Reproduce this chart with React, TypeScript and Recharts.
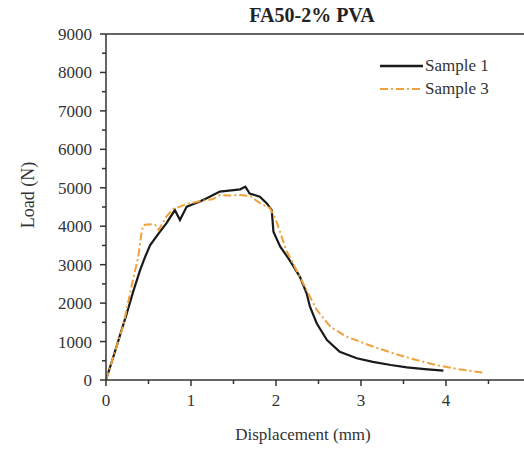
import { LineChart, Line, XAxis, YAxis, ReferenceLine } from "recharts";

const sample1X = [0, 0.08, 0.16, 0.24, 0.32, 0.4, 0.46, 0.52, 0.62, 0.71, 0.81, 0.87, 0.95, 1.03, 1.1, 1.18, 1.26, 1.34, 1.42, 1.5, 1.58, 1.64, 1.69, 1.81, 1.89, 1.95, 1.97, 2.05, 2.16, 2.28, 2.36, 2.4, 2.48, 2.6, 2.75, 2.95, 3.14, 3.35, 3.54, 3.75, 3.97];
const sample1Y = [0, 560, 1130, 1700, 2300, 2850, 3200, 3510, 3815, 4075, 4420, 4160, 4510, 4580, 4640, 4720, 4810, 4900, 4920, 4940, 4960, 5030, 4850, 4770, 4600, 4420, 3860, 3470, 3120, 2690, 2255, 1905, 1470, 1040, 735, 565, 470, 390, 330, 285, 245];

const sample3X = [0, 0.1, 0.2, 0.3, 0.38, 0.42, 0.44, 0.52, 0.58, 0.62, 0.71, 0.79, 0.87, 0.95, 1.1, 1.18, 1.25, 1.34, 1.45, 1.58, 1.7, 1.81, 1.93, 2.0, 2.12, 2.24, 2.36, 2.48, 2.64, 2.83, 2.99, 3.14, 3.4, 3.65, 3.9, 4.15, 4.44];
const sample3Y = [0, 700, 1390, 2430, 3210, 3860, 4030, 4050, 4030, 3900, 4250, 4450, 4510, 4580, 4650, 4680, 4700, 4810, 4800, 4810, 4780, 4600, 4470, 4160, 3380, 2860, 2340, 1820, 1385, 1125, 995, 870, 680, 520, 380, 280, 190];

const xTicks = [0, 0.5, 1, 1.5, 2, 2.5, 3, 3.5, 4, 4.5];
const yTicks = [0, 500, 1000, 1500, 2000, 2500, 3000, 3500, 4000, 4500, 5000, 5500, 6000, 6500, 7000, 7500, 8000, 8500, 9000];

const series1 = sample1X.map((x, i) => ({ x, y: sample1Y[i] }));
const series3 = sample3X.map((x, i) => ({ x, y: sample3Y[i] }));

const font = "'Liberation Serif', 'Times New Roman', serif";
const axisColor = "#333";
const orange = "#EFA13A";

const XTick = (props: any) => {
  const { x, y, payload } = props;
  const major = Number.isInteger(payload.value);
  return (
    <g>
      <line x1={x} x2={x} y1={y - 8} y2={y - 8 + (major ? 6 : 4)} stroke={axisColor} strokeWidth={1.5} />
      {major && (
        <text x={x} y={y + 18} textAnchor="middle" fontFamily={font} fontSize={17} fill={axisColor}>
          {payload.value}
        </text>
      )}
    </g>
  );
};

const YTick = (props: any) => {
  const { x, y, payload } = props;
  const major = payload.value % 1000 === 0;
  return (
    <g>
      <line x1={x + 8} x2={x + 8 - (major ? 6 : 4)} y1={y} y2={y} stroke={axisColor} strokeWidth={1.5} />
      {major && (
        <text x={x - 6} y={y + 6} textAnchor="end" fontFamily={font} fontSize={17} fill={axisColor}>
          {payload.value}
        </text>
      )}
    </g>
  );
};

const XLabel = () => (
  <text x={303} y={440} textAnchor="middle" fontFamily={font} fontSize={17} fill={axisColor}>
    Displacement (mm)
  </text>
);

const YLabel = () => (
  <text
    x={28}
    y={195}
    transform="rotate(-90 28 195)"
    textAnchor="middle"
    dominantBaseline="central"
    fontFamily={font}
    fontSize={18}
    fill={axisColor}
  >
    Load (N)
  </text>
);

const LegendBox = () => (
  <div
    style={{
      position: "absolute",
      left: 380,
      top: 54,
      fontFamily: font,
      fontSize: 17,
      color: axisColor,
      lineHeight: "23px",
    }}
  >
    <div style={{ display: "flex", alignItems: "center" }}>
      <svg width={43} height={10}>
        <line x1={0} x2={43} y1={5} y2={5} stroke="#1a1a1a" strokeWidth={2.4} />
      </svg>
      <span style={{ marginLeft: 2 }}>Sample 1</span>
    </div>
    <div style={{ display: "flex", alignItems: "center" }}>
      <svg width={43} height={10}>
        <line x1={0} x2={43} y1={5} y2={5} stroke={orange} strokeWidth={2.2} strokeDasharray="8 3 2 3" />
      </svg>
      <span style={{ marginLeft: 2 }}>Sample 3</span>
    </div>
  </div>
);

export default function App() {
  return (
    <div style={{ position: "absolute", left: 0, top: 0, width: 524, height: 449, background: "#fff" }}>
      <div
        style={{
          position: "absolute",
          left: 112,
          width: 400,
          top: 3,
          textAlign: "center",
          fontFamily: font,
          fontWeight: "bold",
          fontSize: 20,
          lineHeight: "24px",
          color: "#222",
        }}
      >
        FA50-2% PVA
      </div>
      <LineChart width={524} height={449} margin={{ top: 34, right: 0, left: 0, bottom: 0 }}>
        <XAxis
          type="number"
          dataKey="x"
          domain={[0, 4.918]}
          ticks={xTicks}
          allowDataOverflow
          height={69}
          stroke={axisColor}
          strokeWidth={1.5}
          tickLine={false}
          tick={<XTick />}
          interval={0}
          label={<XLabel />}
        />
        <YAxis
          type="number"
          dataKey="y"
          domain={[0, 9000]}
          ticks={yTicks}
          width={106}
          stroke={axisColor}
          strokeWidth={1.5}
          tickLine={false}
          tick={<YTick />}
          interval={0}
          label={<YLabel />}
        />
        <ReferenceLine y={9000} stroke={axisColor} strokeWidth={1.5} ifOverflow="visible" />
        <Line
          data={series1}
          dataKey="y"
          name="Sample 1"
          stroke="#1a1a1a"
          strokeWidth={2.2}
          dot={false}
          isAnimationActive={false}
          type="linear"
        />
        <Line
          data={series3}
          dataKey="y"
          name="Sample 3"
          stroke={orange}
          strokeWidth={2}
          strokeDasharray="8 3 2 3"
          dot={false}
          isAnimationActive={false}
          type="linear"
        />
      </LineChart>
      <LegendBox />
    </div>
  );
}
